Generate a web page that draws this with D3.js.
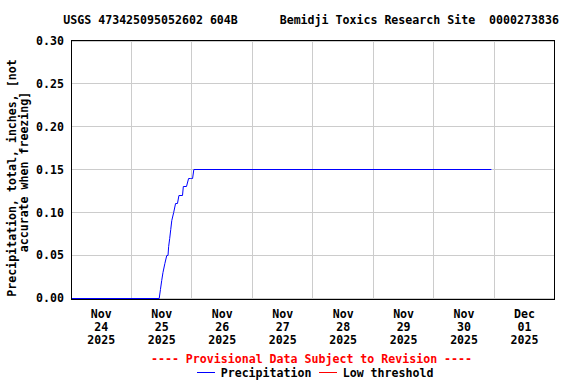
<!DOCTYPE html>
<html>
<head>
<meta charset="utf-8">
<script src="https://cdn.jsdelivr.net/npm/d3@7"></script>
<style>
  html, body { margin: 0; padding: 0; background: #fff; }
  svg { display: block; }
  text { font-family: "DejaVu Sans Mono", "Liberation Mono", monospace; font-weight: bold; font-size: 11.6px; white-space: pre; }
</style>
</head>
<body>
<svg id="chart" width="576" height="384"></svg>
<script>
// ---- data ----
const titleText = "USGS 473425095052602 604B      Bemidji Toxics Research Site  0000273836";
const yLabelLines = ["Precipitation, total, inches, [not", "accurate when freezing]"];
const provisionalText = "---- Provisional Data Subject to Revision ----";
const seriesNames = ["Precipitation", "Low threshold"];

const times = [
  "2025-11-24 00:00", "2025-11-25 11:00", "2025-11-25 11:30", "2025-11-25 12:00",
  "2025-11-25 12:30", "2025-11-25 13:15", "2025-11-25 14:00", "2025-11-25 14:30",
  "2025-11-25 14:45", "2025-11-25 15:10", "2025-11-25 15:35", "2025-11-25 16:00",
  "2025-11-25 16:45", "2025-11-25 17:30", "2025-11-25 18:15", "2025-11-25 18:50",
  "2025-11-25 20:15", "2025-11-25 20:35", "2025-11-25 21:50", "2025-11-25 22:40",
  "2025-11-25 23:30", "2025-11-25 23:45", "2025-11-26 00:15", "2025-11-26 00:45",
  "2025-11-30 22:50"
];
const values = [
  0.00, 0.00, 0.01, 0.02,
  0.03, 0.04, 0.05, 0.05,
  0.06, 0.07, 0.08, 0.09,
  0.10, 0.11, 0.11, 0.12,
  0.12, 0.13, 0.13, 0.14,
  0.14, 0.14, 0.14, 0.15,
  0.15
];
const xDomain = ["2025-11-24 00:00", "2025-12-02 00:00"];
const yTicks = [0.00, 0.05, 0.10, 0.15, 0.20, 0.25, 0.30];

// ---- drawing ----
const parse = d3.utcParse("%Y-%m-%d %H:%M");
const data = times.map((t, i) => ({ t: parse(t), v: values[i] }));

const svg = d3.select("#chart");
const L = 71, R = 554.8, T = 41, B = 298;

const x = d3.scaleUtc().domain(xDomain.map(parse)).range([L, R]);
const y = d3.scaleLinear().domain([0, 0.30]).range([B, T]);

const crisp = v => Math.round(v) + 0.5;

// gridlines
const dayTicks = d3.utcDay.range(parse(xDomain[0]), d3.utcDay.offset(parse(xDomain[1]), 1));
svg.append("g").selectAll("line.v")
  .data(dayTicks.slice(1, -1))
  .join("line")
  .attr("x1", d => crisp(x(d) - 0.5)).attr("x2", d => crisp(x(d) - 0.5))
  .attr("y1", 40).attr("y2", 299.5)
  .attr("stroke", "#cccccc").attr("stroke-width", 1);

svg.append("g").selectAll("line.h")
  .data(yTicks)
  .join("line")
  .attr("x1", 71).attr("x2", 554.5)
  .attr("y1", d => crisp(y(d) - 0.5)).attr("y2", d => crisp(y(d) - 0.5))
  .attr("stroke", "#cccccc").attr("stroke-width", 1);

// data line
const line = d3.line().x(d => x(d.t)).y(d => crisp(y(d.v) - 0.5));
svg.append("path")
  .datum(data)
  .attr("d", line)
  .attr("fill", "none")
  .attr("stroke", "#0000ff")
  .attr("stroke-width", 1);

// frame
svg.append("rect")
  .attr("x", 71.5).attr("y", 40.5)
  .attr("width", 554.5 - 71.5).attr("height", 299.5 - 40.5)
  .attr("fill", "none").attr("stroke", "#000").attr("stroke-width", 1);

// y tick labels
const fmt = d3.format(".2f");
svg.append("g").selectAll("text")
  .data(yTicks)
  .join("text")
  .attr("x", 64).attr("y", d => y(d) + 4.3)
  .attr("text-anchor", "end")
  .text(d => fmt(d));

// x tick labels (centered at noon of each day)
const labelDays = dayTicks.slice(0, 8);
const fMon = d3.utcFormat("%b"), fDay = d3.utcFormat("%d"), fYear = d3.utcFormat("%Y");
const xl = svg.append("g").selectAll("g")
  .data(labelDays)
  .join("g")
  .attr("transform", d => `translate(${x(d3.utcHour.offset(d, 12))},0)`);
xl.append("text").attr("y", 318).attr("text-anchor", "middle").text(d => fMon(d));
xl.append("text").attr("y", 331).attr("text-anchor", "middle").text(d => fDay(d));
xl.append("text").attr("y", 344).attr("text-anchor", "middle").text(d => fYear(d));

// title
svg.append("text")
  .attr("x", 63.3).attr("y", 23.5)
  .attr("text-anchor", "start")
  .text(titleText);

// y axis label
svg.append("text")
  .attr("transform", "translate(16,178) rotate(-90)")
  .attr("text-anchor", "middle")
  .text(yLabelLines[0]);
svg.append("text")
  .attr("transform", "translate(28,172) rotate(-90)")
  .attr("text-anchor", "middle")
  .text(yLabelLines[1]);

// provisional
svg.append("text")
  .attr("x", 311.5).attr("y", 363)
  .attr("text-anchor", "middle")
  .attr("fill", "#ff0000")
  .text(provisionalText);

// legend
svg.append("line").attr("x1", 197).attr("x2", 215).attr("y1", 372.5).attr("y2", 372.5)
  .attr("stroke", "#0000ff").attr("stroke-width", 1);
svg.append("text").attr("x", 220.7).attr("y", 376.5).text(seriesNames[0]);
svg.append("line").attr("x1", 319).attr("x2", 337).attr("y1", 372.5).attr("y2", 372.5)
  .attr("stroke", "#ff0000").attr("stroke-width", 1);
svg.append("text").attr("x", 342.7).attr("y", 376.5).text(seriesNames[1]);
</script>
</body>
</html>
